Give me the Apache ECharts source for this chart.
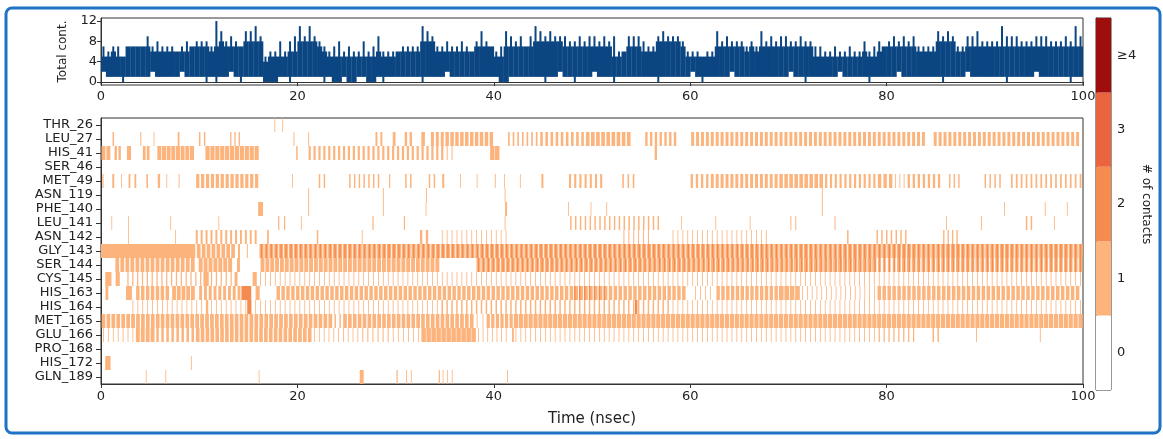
<!DOCTYPE html>
<html><head><meta charset="utf-8">
<script src="https://cdn.jsdelivr.net/npm/echarts@6/dist/echarts.min.js"></script>
<style>html,body{margin:0;padding:0;background:#fff;}#c{width:1163px;height:439px;}</style>
</head><body><div id="c"></div>
<script>
// ---------------- data ----------------
const residues = ['THR_26','LEU_27','HIS_41','SER_46','MET_49','ASN_119','PHE_140','LEU_141','ASN_142',
  'GLY_143','SER_144','CYS_145','HIS_163','HIS_164','MET_165','GLU_166','PRO_168','HIS_172','GLN_189'];
const timeTicks = [0, 20, 40, 60, 80, 100];
const totalTicks = [0, 4, 8, 12];
const binWidth = 0.5; // nsec per bin of the total-contact trace
// peak value of total contacts in each 0.5 nsec bin
const totalHigh = [
  7,6,7,7,5,7,7,7,7,9, 7,8,7,7,7,6,7,8,7,8, 8,8,7,12,10,8,9,8,7,10, 10,11,9,5,6,6,8,6,8,9,
  11,9,11,9,8,7,6,7,8,6, 7,6,6,8,6,7,9,6,6,6, 6,7,7,7,7,11,10,9,7,7, 8,7,7,8,7,6,8,10,8,7,
  6,7,10,9,8,9,7,9,11,10, 9,10,9,9,9,8,8,9,8,9, 9,8,9,8,9,6,6,9,9,9, 8,7,7,9,10,9,9,9,8,6,
  6,6,5,6,6,10,8,9,8,8, 8,7,8,7,10,8,9,8,9,9, 8,8,9,8,8,7,7,6,6,7, 6,6,7,6,6,8,6,7,8,7,
  8,9,8,9,8,9,7,7,7,7, 10,9,10,9,7,7,9,9,10,8, 8,8,8,11,9,9,9,8,8,8, 9,9,9,8,8,8,9,8,11,9];
// upper level of the densely filled body in each bin
const totalCore = [
  5,5,6,5,5,7,7,7,7,7, 6,6,6,6,6,6,6,6,7,7, 7,7,6,7,8,7,7,7,7,8, 8,8,8,4,5,5,5,5,6,6,
  8,8,8,8,7,6,5,5,5,5, 5,5,5,5,5,5,6,5,5,5, 6,6,6,6,6,8,8,8,6,6, 6,6,6,6,6,6,7,7,7,7,
  5,5,7,7,7,7,7,7,8,8, 8,8,8,8,7,7,7,7,7,7, 7,7,7,7,5,5,7,7,7,7, 6,6,6,8,8,8,8,8,7,5,
  5,5,5,5,5,7,7,7,7,7, 7,6,7,6,7,7,7,7,7,7, 7,7,7,7,7,5,5,5,5,5, 5,5,5,5,5,6,5,5,6,7,
  7,7,7,7,7,7,6,6,6,6, 8,8,8,8,6,6,7,7,7,7, 7,7,7,7,7,7,7,7,7,7, 7,7,7,7,7,7,7,7,7,7];
// lowest value of total contacts in each bin
const totalLow = [
  2,1,1,1,0,1,1,1,1,1, 2,1,1,1,1,1,2,1,1,1, 1,0,1,0,1,1,2,1,0,1, 1,1,1,0,0,0,1,1,0,1,
  1,1,1,1,1,0,1,0,0,1, 0,0,1,1,0,0,1,0,1,1, 1,1,1,1,1,0,1,1,1,1, 2,1,1,1,1,1,1,1,1,1,
  1,0,0,1,1,1,1,1,1,1, 0,1,1,2,1,1,0,1,1,1, 2,1,1,1,0,1,1,1,1,1, 1,1,1,0,1,1,1,1,1,1,
  2,1,0,1,1,1,1,1,2,1, 1,1,1,1,1,1,1,1,1,1, 2,1,1,0,1,1,1,1,1,1, 2,1,1,1,1,1,0,1,1,1,
  1,1,2,1,1,1,1,1,1,1, 1,0,1,1,1,1,2,1,1,1, 1,1,1,1,0,1,1,1,1,1, 2,1,1,1,1,1,1,0,1,1];
const contactLevels = ['0', '1', '2', '3', '≥4'];
const levelColors = ['#ffffff', '#fcb37c', '#f68b4f', '#e9643f', '#a00d0d'];

// contact runs per residue: [start nsec, end nsec, fraction of frames in contact, # of contacts]
const runs_THR_26 = [[17.6,17.8,0.3,1],[18.4,18.6,0.3,1]];
const runs_LEU_27 = [[1.0,1.5,0.3,1],[3.8,4.3,0.2,1],[5.2,5.6,0.2,1],[7.6,8.2,0.3,1],[9.8,10.8,0.3,1],
  [13.0,14.3,0.3,1],[19.5,19.8,0.3,1],[21.0,21.3,0.3,1],[27.8,28.8,0.4,1],[29.5,30.2,0.4,1],[30.8,31.8,0.5,1],
  [32.6,33.0,0.9,1],[33.5,35.0,0.6,1],[35.0,40.0,0.7,1],[41.3,44.6,0.35,1],[44.6,49.3,0.5,1],[49.3,54.0,0.7,1],
  [55.3,58.7,0.5,1],[60.0,69.0,0.6,1],[69.0,84.0,0.6,1],[84.7,99.7,0.6,1]];
const runs_HIS_41 = [[0.0,1.0,0.8,1],[1.3,2.1,0.6,1],[2.5,3.2,0.6,1],[4.2,5.0,0.7,1],[5.7,9.5,0.85,1],
  [10.6,16.1,0.85,1],[19.7,20.2,0.3,1],[21.0,35.0,0.45,1],[35.0,36.0,0.2,1],[39.6,40.6,0.9,1],[56.3,56.7,0.6,1]];
const runs_SER_46 = [];
const runs_MET_49 = [[0.0,0.4,0.3,1],[1.0,1.5,0.4,1],[2.0,2.2,0.3,1],[2.6,3.8,0.3,1],[4.5,4.9,0.4,1],
  [5.6,6.2,0.4,1],[6.6,6.8,0.3,1],[7.8,8.1,0.3,1],[9.6,16.1,0.65,1],[19.4,19.6,0.3,1],[22.0,23.0,0.3,1],
  [25.1,28.5,0.3,1],[29.2,29.6,0.3,1],[30.8,31.8,0.3,1],[33.2,34.2,0.3,1],[34.5,35.2,0.3,1],[36.5,36.7,0.3,1],
  [38.2,38.4,0.3,1],[40.0,40.3,0.3,1],[41.0,41.2,0.3,1],[42.6,42.8,0.3,1],[44.6,45.3,0.3,1],[47.5,51.2,0.4,1],
  [52.9,54.5,0.3,1],[59.9,62.0,0.45,1],[62.0,69.0,0.6,1],[69.0,73.6,0.7,1],[73.6,79.0,0.45,1],[79.0,80.7,0.6,1],
  [80.7,82.0,0.2,1],[82.0,85.6,0.45,1],[86.2,87.6,0.3,1],[89.8,91.8,0.3,1],[92.5,100.0,0.35,1]];
const runs_ASN_119 = [[21.0,21.3,0.3,1],[28.6,28.9,0.3,1],[33.0,33.3,0.3,1],[41.0,41.3,0.3,1],[73.3,73.6,0.3,1]];
const runs_PHE_140 = [[16.0,16.5,1.0,1],[21.0,21.3,0.3,1],[28.6,28.9,0.3,1],[33.0,33.2,0.3,1],[41.0,41.5,0.4,1],
  [47.5,47.7,0.3,1],[49.8,50.0,0.3,1],[51.4,51.6,0.3,1],[73.3,73.6,0.3,1],[91.9,92.1,0.3,1],[96.0,96.3,0.3,1],
  [98.3,98.5,0.2,1]];
const runs_LEU_141 = [[1.0,1.2,0.2,1],[2.7,2.9,0.2,1],[7.0,7.2,0.2,1],[11.9,12.1,0.2,1],[17.8,19.0,0.2,1],
  [20.3,20.5,0.2,1],[27.4,28.0,0.2,1],[30.6,31.2,0.2,1],[41.0,41.3,0.3,1],[47.6,57.0,0.3,1],[59.0,59.2,0.2,1],
  [62.5,62.7,0.2,1],[66.0,66.2,0.2,1],[70.0,71.0,0.2,1],[74.5,75.0,0.2,1],[86.0,86.2,0.3,1],[89.5,89.8,0.3,1],
  [94.0,95.0,0.3,1],[97.0,97.2,0.3,1]];
const runs_ASN_142 = [[2.7,2.9,0.2,1],[7.5,7.7,0.2,1],[9.5,16.0,0.4,1],[16.7,17.3,0.3,1],[21.8,22.3,0.3,1],
  [26.5,26.7,0.2,1],[32.3,33.5,0.4,1],[34.5,41.5,0.15,1],[53.0,56.0,0.2,1],[58.0,68.0,0.15,1],[75.8,76.3,0.3,1],
  [78.8,82.2,0.3,1],[85.6,87.4,0.3,1]];
const runs_GLY_143 = [[0.0,9.6,1.0,1],[9.7,13.7,0.75,1],[13.7,14.4,0.3,1],[14.8,15.0,0.5,1],[16.1,100.0,0.85,1],
  [16.1,100.0,0.3,2]];
const runs_SER_144 = [[1.4,9.6,0.75,1],[9.9,13.4,0.8,1],[13.7,14.3,0.5,1],[16.2,34.5,0.8,1],[38.2,79.0,0.85,1],
  [79.0,81.0,0.5,1],[81.0,100.0,0.75,1],[38.2,100.0,0.25,2]];
const runs_CYS_145 = [[0.4,1.1,0.9,1],[1.4,2.0,0.7,1],[2.5,10.4,0.25,1],[10.4,11.0,0.9,1],[11.0,13.5,0.25,1],
  [13.5,14.0,0.6,1],[15.3,16.0,0.6,1],[16.0,35.0,0.15,1],[35.0,70.0,0.1,1],[70.0,100.0,0.07,1]];
const runs_HIS_163 = [[0.4,0.8,0.7,1],[2.5,3.2,0.85,1],[3.5,7.0,0.7,1],[7.2,9.6,0.8,1],[9.9,14.3,0.6,1],
  [14.3,15.3,1.0,2],[15.6,16.3,0.6,1],[17.8,59.6,0.7,1],[60.3,62.3,0.05,1],[62.6,69.0,0.7,1],[69.0,71.2,0.85,1],
  [71.2,79.0,0.1,1],[79.0,99.7,0.7,1],[48.0,51.5,0.3,2]];
const runs_HIS_164 = [[3.0,35.0,0.12,1],[10.6,11.0,0.6,1],[14.8,15.4,0.7,2],[34.5,58.0,0.3,1],[54.3,54.7,0.6,2],
  [58.0,100.0,0.12,1]];
const runs_MET_165 = [[0.0,23.6,0.75,1],[23.6,24.6,0.3,1],[24.6,38.0,0.75,1],[38.0,39.2,0.1,1],[39.2,42.0,0.7,1],
  [42.0,100.0,0.85,1]];
const runs_GLU_166 = [[0.0,3.5,0.15,1],[3.5,5.5,0.8,1],[5.5,9.6,0.5,1],[9.6,21.5,0.75,1],[21.5,26.4,0.1,1],
  [26.4,29.5,0.2,1],[29.5,32.6,0.1,1],[32.6,38.2,0.9,1],[38.2,41.5,0.1,1],[41.8,42.1,0.6,1],[42.0,79.0,0.06,1],
  [79.0,83.0,0.25,1],[84.5,85.5,0.3,1],[89.0,89.3,0.3,1],[95.5,95.8,0.3,1]];
const runs_PRO_168 = [];
const runs_HIS_172 = [[0.4,1.0,0.9,1],[9.1,9.3,0.2,1]];
const runs_GLN_189 = [[4.5,4.7,0.2,1],[6.5,6.7,0.2,1],[16.0,16.2,0.2,1],[26.3,26.8,0.8,1],[30.0,30.3,0.4,1],
  [31.0,31.2,0.4,1],[31.5,31.7,0.4,1],[34.3,34.6,0.4,1],[34.6,36.0,0.15,1],[41.3,41.5,0.3,1]];

const contactRuns = [runs_THR_26, runs_LEU_27, runs_HIS_41, runs_SER_46, runs_MET_49, runs_ASN_119, runs_PHE_140,
  runs_LEU_141, runs_ASN_142, runs_GLY_143, runs_SER_144, runs_CYS_145, runs_HIS_163, runs_HIS_164, runs_MET_165,
  runs_GLU_166, runs_PRO_168, runs_HIS_172, runs_GLN_189];

// ---------------- build ----------------
// each bin: [t, low, high, coreLow, coreHigh]; an isolated dip below the neighbours is drawn as a thin spike
const totalData = totalHigh.map((h, i) => {
  const l = totalLow[i];
  const lN = Math.min(i > 0 ? totalLow[i - 1] : l, i < totalLow.length - 1 ? totalLow[i + 1] : l);
  return [i * binWidth, l, h, l < lN ? lN : l, Math.min(totalCore[i], h)];
});
const heatData = [];
contactRuns.forEach((runs, row) => runs.forEach(r => heatData.push([r[0], r[1], row, r[2], r[3]])));

const FONT = 'DejaVu Sans';
const TXT = '#222';
const AX = '#333';
const TRACE = '#0b4682';

function renderTotal(params, api) {
  const t = api.value(0), lo = api.value(1), hi = api.value(2), cLo = api.value(3), cHi = api.value(4);
  const a = api.coord([t, cHi]);
  const b = api.coord([t + binWidth, cLo]);
  const w = b[0] - a[0];
  const children = [{type: 'rect', shape: {x: a[0], y: a[1], width: w + 0.3, height: b[1] - a[1]}, style: {fill: TRACE}}];
  const cx = a[0] + w / 2;
  if (hi > cHi) {
    const top = api.coord([t, hi])[1];
    children.push({type: 'rect', shape: {x: cx - 1, y: top, width: 2, height: a[1] - top + 0.5}, style: {fill: TRACE}});
  }
  if (lo < cLo) {
    const bot = api.coord([t, lo])[1];
    children.push({type: 'rect', shape: {x: cx - 1, y: b[1] - 0.5, width: 2, height: bot - b[1] + 0.5}, style: {fill: TRACE}});
  }
  return {type: 'group', children};
}
function renderHeat(params, api) {
  const t0 = api.value(0), t1 = api.value(1), row = api.value(2), d = api.value(3), lvl = api.value(4);
  const p0 = api.coord([t0, row]);
  const p1 = api.coord([t1, row]);
  const h = api.size([0, 1])[1];
  const color = levelColors[lvl];
  const segPx = p1[0] - p0[0];
  const children = [];
  if (d >= 0.95) {
    children.push({type: 'rect', shape: {x: p0[0], y: p0[1] - h / 2, width: segPx, height: h}, style: {fill: color}});
  } else {
    const cellPx = api.size([binWidth, 0])[0];
    const n = Math.max(1, Math.round(segPx / cellPx));
    const c = segPx / n;
    const w = Math.max(0.8, d * c);
    for (let k = 0; k < n; k++) {
      const cx = p0[0] + c * (k + 0.5);
      children.push({type: 'rect', shape: {x: cx - w / 2, y: p0[1] - h / 2, width: w, height: h}, style: {fill: color}});
    }
  }
  return {type: 'group', children};
}

const axisLabelStyle = {color: TXT, fontFamily: FONT, fontSize: 13};
const chart = echarts.init(document.getElementById('c'), null, {renderer: 'canvas'});
chart.setOption({
  animation: false,
  backgroundColor: '#fff',
  textStyle: {fontFamily: FONT},
  graphic: [{type: 'rect', shape: {x: 6, y: 8, width: 1154, height: 425, r: 6},
    style: {fill: 'none', stroke: '#1f73c6', lineWidth: 3}, z: 100}],
  grid: [
    {left: 101, top: 18, width: 982, height: 67, show: true, borderColor: AX, borderWidth: 1, backgroundColor: 'transparent'},
    {left: 101, top: 118, width: 982, height: 266, show: true, borderColor: AX, borderWidth: 1, backgroundColor: 'transparent'},
    {left: 1096, top: 18, width: 15, height: 372, show: true, borderColor: AX, borderWidth: 1, backgroundColor: 'transparent'}
  ],
  xAxis: [
    {type: 'value', gridIndex: 0, min: 0, max: 100, interval: 20, splitLine: {show: false},
      axisLine: {show: true, lineStyle: {color: AX}}, axisTick: {show: true, length: 4, lineStyle: {color: AX}},
      axisLabel: Object.assign({margin: 5}, axisLabelStyle)},
    {type: 'value', gridIndex: 1, min: 0, max: 100, interval: 20, splitLine: {show: false},
      axisLine: {show: true, lineStyle: {color: AX}}, axisTick: {show: true, length: 4, lineStyle: {color: AX}},
      axisLabel: Object.assign({margin: 6}, axisLabelStyle),
      name: 'Time (nsec)', nameLocation: 'middle', nameGap: 28,
      nameTextStyle: {color: TXT, fontFamily: FONT, fontSize: 15}},
    {type: 'value', gridIndex: 2, min: 0, max: 1, show: false}
  ],
  yAxis: [
    {type: 'value', gridIndex: 0, min: -0.6, max: 12.6, splitLine: {show: false},
      axisLine: {show: true, lineStyle: {color: AX}},
      axisTick: {show: true, length: 4, lineStyle: {color: AX}, customValues: totalTicks},
      axisLabel: Object.assign({margin: 4, customValues: totalTicks}, axisLabelStyle),
      name: 'Total cont.', nameLocation: 'middle', nameRotate: 90, nameGap: 32,
      nameTextStyle: {color: TXT, fontFamily: FONT, fontSize: 12}},
    {type: 'category', gridIndex: 1, data: residues, inverse: true,
      axisLine: {show: true, lineStyle: {color: AX}},
      axisTick: {show: true, alignWithLabel: true, length: 5, lineStyle: {color: AX}},
      axisLabel: {color: TXT, fontFamily: FONT, fontSize: 13, margin: 8, interval: 0}},
    {type: 'category', gridIndex: 2, data: contactLevels, position: 'right',
      axisLine: {show: true, lineStyle: {color: AX}},
      axisTick: {show: true, alignWithLabel: true, length: 4, lineStyle: {color: AX}},
      axisLabel: {color: TXT, fontFamily: FONT, fontSize: 13, margin: 6},
      name: '# of contacts', nameLocation: 'middle', nameRotate: -90, nameGap: 22,
      nameTextStyle: {color: TXT, fontFamily: FONT, fontSize: 12}}
  ],
  series: [
    {type: 'custom', xAxisIndex: 0, yAxisIndex: 0, data: totalData, renderItem: renderTotal,
      encode: {x: 0, y: [1, 2]}, clip: true, silent: true},
    {type: 'custom', xAxisIndex: 1, yAxisIndex: 1, data: heatData, renderItem: renderHeat,
      encode: {x: [0, 1], y: 2}, clip: true, silent: true},
    {type: 'bar', xAxisIndex: 2, yAxisIndex: 2, data: contactLevels.map(() => 1), barWidth: '100%',
      itemStyle: {color: p => levelColors[p.dataIndex]}, silent: true}
  ]
});
</script></body></html>
